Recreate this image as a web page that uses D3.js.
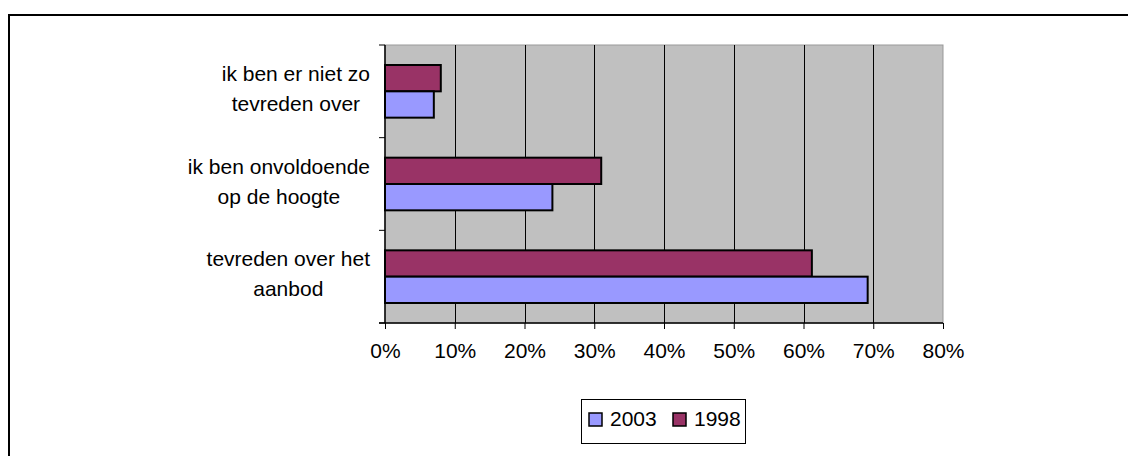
<!DOCTYPE html>
<html>
<head>
<meta charset="utf-8">
<script src="https://cdn.jsdelivr.net/npm/d3@7"></script>
<style>
  body { margin: 0; background: #fff; }
  svg { display: block; }
</style>
</head>
<body>
<div id="chart"></div>
<script>
// data
const categories = ["ik ben er niet zo|tevreden over", "ik ben onvoldoende|op de hoogte", "tevreden over het|aanbod"];
const seriesNames = ["1998", "2003"];
const values1998 = [8, 31, 61.2];
const values2003 = [7, 24, 69.2];
const xTicks = [0, 10, 20, 30, 40, 50, 60, 70, 80];
const legendOrder = ["2003", "1998"];

const colors = { "1998": "#993366", "2003": "#9999FF" };
const font = "'Liberation Sans', Arial, sans-serif";

const W = 1128, H = 456;
const svg = d3.select("#chart").append("svg").attr("width", W).attr("height", H);

// buitenkader (rechts/onder valt buiten beeld)
svg.append("rect").attr("x", 9).attr("y", 15).attr("width", 1140).attr("height", 460)
    .attr("fill", "#fff").attr("stroke", "#000").attr("stroke-width", 2);

const plot = { left: 385, top: 45, right: 943, bottom: 323 };

const x = d3.scaleLinear().domain([0, 80]).range([plot.left, plot.right]);
const y0 = d3.scaleBand().domain(categories).range([plot.top, plot.bottom]).padding(0);
const y1 = d3.scaleBand().domain(seriesNames).range([0, y0.bandwidth()]).paddingInner(0).paddingOuter(0.76);

// achtergrond plotgebied
svg.append("rect")
    .attr("x", plot.left).attr("y", plot.top)
    .attr("width", plot.right - plot.left).attr("height", plot.bottom - plot.top)
    .attr("fill", "#C0C0C0").attr("stroke", "#999").attr("stroke-width", 1);

// verticale rasterlijnen
svg.append("g").selectAll("line")
    .data(xTicks.filter(d => d > 0 && d < 80))
    .enter().append("line")
    .attr("x1", d => Math.round(x(d)) + 0.5).attr("x2", d => Math.round(x(d)) + 0.5)
    .attr("y1", plot.top).attr("y2", plot.bottom)
    .attr("stroke", "#000").attr("stroke-width", 1);

// balken
const rows = [];
categories.forEach((c, i) => {
    rows.push({ cat: c, s: "1998", v: values1998[i] });
    rows.push({ cat: c, s: "2003", v: values2003[i] });
});
svg.append("g").selectAll("rect")
    .data(rows)
    .enter().append("rect")
    .attr("x", x(0))
    .attr("y", d => y0(d.cat) + y1(d.s))
    .attr("width", d => x(d.v) - x(0))
    .attr("height", y1.bandwidth())
    .attr("fill", d => colors[d.s])
    .attr("stroke", "#000").attr("stroke-width", 2);

// linker as
const yAxis = svg.append("g").attr("transform", `translate(${plot.left},0)`);
yAxis.append("line").attr("x1", 0).attr("x2", 0).attr("y1", plot.top).attr("y2", plot.bottom)
    .attr("stroke", "#000").attr("stroke-width", 1.5);
const yTickPos = categories.map(c => y0(c)).concat([plot.bottom]);
yAxis.selectAll(".yt").data(yTickPos).enter().append("line")
    .attr("x1", -6).attr("x2", 0).attr("y1", d => d).attr("y2", d => d)
    .attr("stroke", "#000").attr("stroke-width", 1);

// categorielabels: blok rechts uitgelijnd, regels gecentreerd
const labelRight = 370;
categories.forEach(c => {
    const lines = c.split("|");
    const cy = y0(c) + y0.bandwidth() / 2;
    const t = svg.append("text")
        .attr("y", cy - 10.5)
        .attr("text-anchor", "middle")
        .style("font-family", font).style("font-size", "21px").style("fill", "#000");
    const spans = lines.map((l, k) =>
        t.append("tspan").attr("dy", k === 0 ? 0 : 30).text(l));
    const maxW = d3.max(spans, s => s.node().getComputedTextLength());
    const cx = labelRight - maxW / 2;
    spans.forEach(s => s.attr("x", cx));
});

// onderste as
const xAxis = svg.append("g").attr("transform", `translate(0,${plot.bottom})`)
    .call(d3.axisBottom(x).tickValues(xTicks).tickSize(6).tickPadding(14).tickFormat(d => d + "%"));
xAxis.select(".domain").attr("stroke", "#000").attr("stroke-width", 1.5)
    .attr("d", `M${plot.left - 6},0H${plot.right}`);
xAxis.selectAll(".tick line").attr("stroke", "#000");
xAxis.selectAll("text")
    .style("font-family", font).style("font-size", "21px").style("fill", "#000");

// legenda
const leg = svg.append("g");
leg.append("rect").attr("x", 581.5).attr("y", 399.5).attr("width", 164).attr("height", 44)
    .attr("fill", "#fff").attr("stroke", "#000").attr("stroke-width", 1);
const legX = [589, 673];
legendOrder.forEach((s, i) => {
    leg.append("rect").attr("x", legX[i]).attr("y", 413).attr("width", 13).attr("height", 13)
        .attr("fill", colors[s]).attr("stroke", "#000").attr("stroke-width", 1.5);
    leg.append("text").attr("x", legX[i] + 21).attr("y", 425.5)
        .style("font-family", font).style("font-size", "21px").style("fill", "#000")
        .text(s);
});
</script>
</body>
</html>
